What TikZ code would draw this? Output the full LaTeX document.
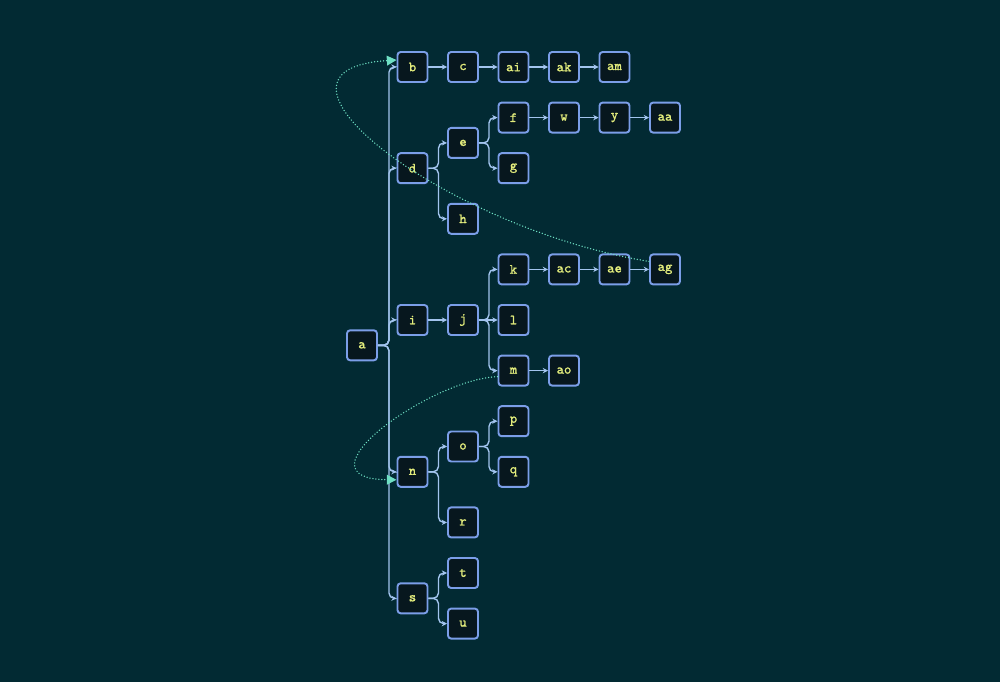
\documentclass[tikz,border=0pt]{standalone}
\usepackage{fontspec}
\usepackage{tikz}
\usetikzlibrary{arrows.meta}

\newfontfamily\boxfont{lmmono10-regular.otf}[FakeBold=1.3]

\definecolor{bgcol}{HTML}{022A33}
\definecolor{boxfill}{HTML}{07171E}
\definecolor{boxline}{HTML}{7B9EE8}
\definecolor{txtcol}{HTML}{E2EC7C}
\definecolor{edgecol}{HTML}{A2C4EE}
\definecolor{jumpcol}{HTML}{6FE0C4}

\begin{document}
\begin{tikzpicture}[x=1.01cm, y=-0.506cm,
    box/.style={draw=boxline, fill=boxfill, line width=1.1pt, rounded corners=1.8pt,
      minimum size=0.6cm, inner sep=0pt, text=txtcol, font=\boxfont\bfseries\fontsize{8}{9}\selectfont},
    edge/.style={draw=edgecol, line width=0.8pt, -{Stealth[length=3pt,width=3pt]}},
    fork/.style={edge, rounded corners=3pt},
    jump/.style={draw=jumpcol, line width=0.85pt, line cap=round, dash pattern=on 0pt off 1.7pt,
      -{Triangle[length=5.5pt,width=5.5pt]}}]

    % background and margins
    \fill[bgcol] (-7.24cm, 1.34cm) rectangle (12.76cm, -12.3cm);
    \useasboundingbox (-7.24cm, 1.34cm) rectangle (12.76cm, -12.3cm);

    \node[box] (a) at (0, 11) {a};

    \node[box] (b) at (1, 0) {b};
    \node[box] (c) at (2, 0) {c};
    \node[box] (ai) at (3, 0) {ai};
    \node[box] (ak) at (4, 0) {ak};
    \node[box] (am) at (5, 0) {am};

    \node[box] (d) at (1, 4) {d};
    \node[box] (e) at (2, 3) {e};
    \node[box] (f) at (3, 2) {f};
    \node[box] (w) at (4, 2) {w};
    \node[box] (y) at (5, 2) {y};
    \node[box] (aa) at (6, 2) {aa};
    \node[box] (g) at (3, 4) {g};
    \node[box] (h) at (2, 6) {h};

    \node[box] (i) at (1, 10) {i};
    \node[box] (j) at (2, 10) {j};
    \node[box] (k) at (3, 8) {k};
    \node[box] (ac) at (4, 8) {ac};
    \node[box] (ae) at (5, 8) {ae};
    \node[box] (ag) at (6, 8) {ag};
    \node[box] (l) at (3, 10) {l};
    \node[box] (m) at (3, 12) {m};
    \node[box] (ao) at (4, 12) {ao};

    \node[box] (n) at (1, 16) {n};
    \node[box] (o) at (2, 15) {o};
    \node[box] (p) at (3, 14) {p};
    \node[box] (q) at (3, 16) {q};
    \node[box] (r) at (2, 18) {r};

    \node[box] (s) at (1, 21) {s};
    \node[box] (t) at (2, 20) {t};
    \node[box] (u) at (2, 22) {u};

    % forks
    \draw[fork] (a.east) -- ++(0.22cm, 0) |- (b.west);
    \draw[fork] (a.east) -- ++(0.22cm, 0) |- (d.west);
    \draw[fork] (a.east) -- ++(0.22cm, 0) |- (i.west);
    \draw[fork] (a.east) -- ++(0.22cm, 0) |- (n.west);
    \draw[fork] (a.east) -- ++(0.22cm, 0) |- (s.west);
    \draw[fork] (d.east) -- ++(0.2cm, 0) |- (e.west);
    \draw[fork] (d.east) -- ++(0.2cm, 0) |- (h.west);
    \draw[fork] (e.east) -- ++(0.2cm, 0) |- (f.west);
    \draw[fork] (e.east) -- ++(0.2cm, 0) |- (g.west);
    \draw[fork] (j.east) -- ++(0.2cm, 0) |- (k.west);
    \draw[fork] (j.east) -- ++(0.2cm, 0) |- (m.west);
    \draw[fork] (n.east) -- ++(0.2cm, 0) |- (o.west);
    \draw[fork] (n.east) -- ++(0.2cm, 0) |- (r.west);
    \draw[fork] (o.east) -- ++(0.2cm, 0) |- (p.west);
    \draw[fork] (o.east) -- ++(0.2cm, 0) |- (q.west);
    \draw[fork] (s.east) -- ++(0.2cm, 0) |- (t.west);
    \draw[fork] (s.east) -- ++(0.2cm, 0) |- (u.west);

    % straight runs
    \draw[edge] (b) -- (c);
    \draw[edge] (c) -- (ai);
    \draw[edge] (ai) -- (ak);
    \draw[edge] (ak) -- (am);
    \draw[edge] (f) -- (w);
    \draw[edge] (w) -- (y);
    \draw[edge] (y) -- (aa);
    \draw[edge] (i) -- (j);
    \draw[edge] (j) -- (l);
    \draw[edge] (k) -- (ac);
    \draw[edge] (ac) -- (ae);
    \draw[edge] (ae) -- (ag);
    \draw[edge] (m) -- (ao);

    % dotted jumps
    \draw[jump] ([yshift=0.16cm]ag.west) .. controls +(-4cm, 0.64cm) and +(-3.2cm, -0.2cm) .. ([yshift=0.14cm]b.west);
    \draw[jump] ([yshift=-0.12cm]m.west) .. controls +(-1.36cm, -0.06cm) and +(-2.1cm, 0.02cm) .. ([yshift=-0.16cm]n.west);

  \end{tikzpicture}
\end{document}
